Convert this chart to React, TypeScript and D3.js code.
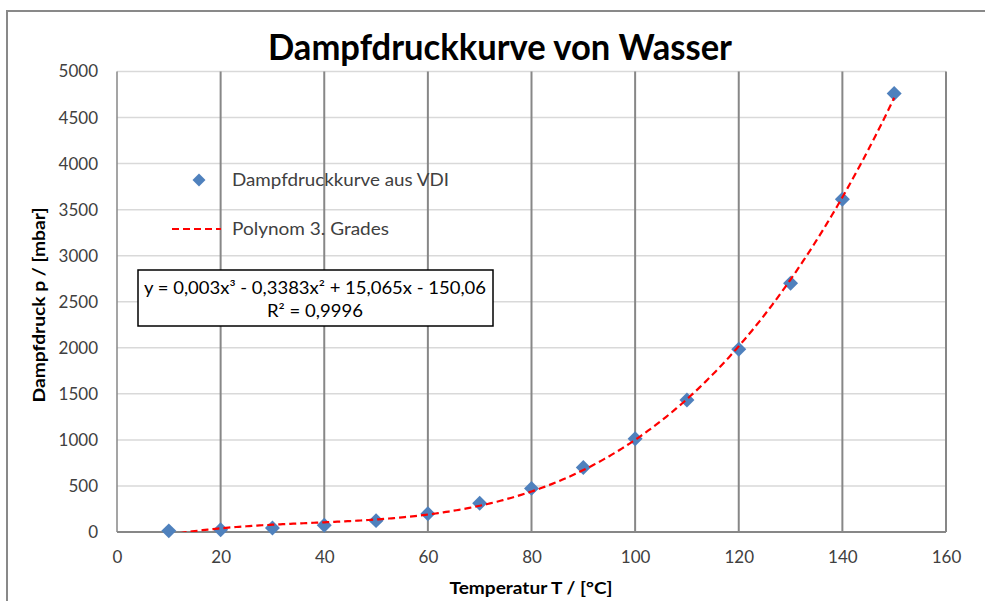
import React, { useEffect, useRef } from 'react';
import * as d3 from 'd3';

// Messwerte (Dampfdruck von Wasser nach VDI)
const temperatures = [10, 20, 30, 40, 50, 60, 70, 80, 90, 100, 110, 120, 130, 140, 150];
const pressures = [12.3, 23.4, 42.4, 73.8, 123.4, 199.3, 311.8, 473.6, 701.2, 1013, 1433, 1985, 2701, 3614, 4760];

const xTicks = [0, 20, 40, 60, 80, 100, 120, 140, 160];
const yTicks = [0, 500, 1000, 1500, 2000, 2500, 3000, 3500, 4000, 4500, 5000];

const titleText = 'Dampfdruckkurve von Wasser';
const xTitle = 'Temperatur T / [°C]';
const yTitle = 'Dampfdruck p / [mbar]';
const seriesName = 'Dampfdruckkurve aus VDI';
const trendName = 'Polynom 3. Grades';
const equationText = 'y = 0,003x³ - 0,3383x² + 15,065x - 150,06';
const r2Text = 'R² = 0,9996';

// least squares polynomial fit (like Excel's trendline)
function fitPoly(xs: number[], ys: number[], degree: number): number[] {
    const n = degree + 1;
    const A: number[][] = [];
    for (let i = 0; i < n; i++) {
        A.push([]);
        for (let j = 0; j < n; j++) {
            A[i].push(d3.sum(xs, x => Math.pow(x, i + j)));
        }
        A[i].push(d3.sum(xs, (x, k) => Math.pow(x, i) * ys[k]));
    }
    for (let c = 0; c < n; c++) {
        let p = c;
        for (let r = c + 1; r < n; r++) if (Math.abs(A[r][c]) > Math.abs(A[p][c])) p = r;
        [A[c], A[p]] = [A[p], A[c]];
        for (let r = 0; r < n; r++) {
            if (r === c) continue;
            const f = A[r][c] / A[c][c];
            for (let k = c; k <= n; k++) A[r][k] -= f * A[c][k];
        }
    }
    return A.map((row, i) => row[n] / row[i]);
}

const FONT = 'Lato, "Open Sans", sans-serif';

const App = () => {
    const svgRef = useRef<SVGSVGElement>(null);

    useEffect(() => {
        const svg = d3.select(svgRef.current);
        svg.selectAll('*').remove();

        const left = 117, right = 946, top = 71.5, bottom = 532;

        const x = d3.scaleLinear().domain([0, 160]).range([left, right]);
        const y = d3.scaleLinear().domain([0, 5000]).range([bottom, top]);

        // outer chart border
        svg.append('path')
            .attr('d', `M7,601 V11 H985`)
            .attr('fill', 'none')
            .attr('stroke', '#898989')
            .attr('stroke-width', 2);

        // title
        svg.append('text')
            .attr('x', 500).attr('y', 60)
            .attr('text-anchor', 'middle')
            .attr('font-family', FONT)
            .attr('font-weight', 'bold')
            .attr('font-size', 36)
            .attr('textLength', 464)
            .attr('lengthAdjust', 'spacingAndGlyphs')
            .text(titleText);

        // horizontal gridlines
        svg.append('g').selectAll('line')
            .data(yTicks.filter(d => d > 0))
            .enter().append('line')
            .attr('x1', left).attr('x2', right)
            .attr('y1', d => y(d)).attr('y2', d => y(d))
            .attr('stroke', '#d9d9d9')
            .attr('stroke-width', 1.5);

        // vertical gridlines
        svg.append('g').selectAll('line')
            .data(xTicks.filter(d => d > 0))
            .enter().append('line')
            .attr('x1', d => x(d)).attr('x2', d => x(d))
            .attr('y1', top).attr('y2', bottom)
            .attr('stroke', '#878787')
            .attr('stroke-width', 2);

        // axis lines
        svg.append('line')
            .attr('x1', left).attr('x2', left).attr('y1', top).attr('y2', bottom)
            .attr('stroke', '#878787').attr('stroke-width', 1.5);
        svg.append('line')
            .attr('x1', left).attr('x2', right).attr('y1', bottom).attr('y2', bottom)
            .attr('stroke', '#878787').attr('stroke-width', 2);

        // axis tick labels
        const yAxis = svg.append('g')
            .attr('transform', `translate(${left},0)`)
            .call(d3.axisLeft(y).tickValues(yTicks).tickSize(0).tickPadding(19).tickFormat(d3.format('d')));
        const xAxis = svg.append('g')
            .attr('transform', `translate(0,${bottom})`)
            .call(d3.axisBottom(x).tickValues(xTicks).tickSize(0).tickPadding(19).tickFormat(d3.format('d')));
        [yAxis, xAxis].forEach(ax => {
            ax.select('.domain').remove();
            ax.selectAll('text')
                .attr('font-family', FONT)
                .attr('font-size', 17)
                .attr('fill', '#404040');
        });

        // axis titles
        svg.append('text')
            .attr('x', 531).attr('y', 594)
            .attr('text-anchor', 'middle')
            .attr('font-family', FONT)
            .attr('font-weight', 'bold')
            .attr('font-size', 17)
            .attr('textLength', 163)
            .attr('lengthAdjust', 'spacingAndGlyphs')
            .text(xTitle);
        svg.append('text')
            .attr('transform', `translate(45,305) rotate(-90)`)
            .attr('text-anchor', 'middle')
            .attr('font-family', FONT)
            .attr('font-weight', 'bold')
            .attr('font-size', 17)
            .attr('textLength', 195)
            .attr('lengthAdjust', 'spacingAndGlyphs')
            .text(yTitle);

        // trendline
        const coef = fitPoly(temperatures, pressures, 3);
        const poly = (t: number) => coef.reduce((s, c, i) => s + c * Math.pow(t, i), 0);
        const ts = d3.range(temperatures[0], temperatures[temperatures.length - 1] + 0.01, 0.5);

        svg.append('clipPath').attr('id', 'plotClip')
            .append('rect')
            .attr('x', left).attr('y', top)
            .attr('width', right - left).attr('height', bottom - top);

        const line = d3.line<number>()
            .x(t => x(t))
            .y(t => y(poly(t)))
            .curve(d3.curveLinear);

        // diamonds
        const diamond = d3.symbol().type(d3.symbolSquare).size(112)();
        svg.append('g').selectAll('path')
            .data(temperatures)
            .enter().append('path')
            .attr('d', diamond)
            .attr('transform', (d, i) => `translate(${x(d)},${y(pressures[i])}) rotate(45)`)
            .attr('fill', '#4f81bd');

        svg.append('path')
            .datum(ts)
            .attr('clip-path', 'url(#plotClip)')
            .attr('d', line)
            .attr('fill', 'none')
            .attr('stroke', '#ff0000')
            .attr('stroke-width', 2.2)
            .attr('stroke-dasharray', '7,4');

        // legend
        svg.append('path')
            .attr('d', d3.symbol().type(d3.symbolSquare).size(84)())
            .attr('transform', 'translate(199,180) rotate(45)')
            .attr('fill', '#4f81bd');
        svg.append('line')
            .attr('x1', 172).attr('x2', 221).attr('y1', 229).attr('y2', 229)
            .attr('stroke', '#ff0000')
            .attr('stroke-width', 2)
            .attr('stroke-dasharray', '7,4');
        [[seriesName, 186, 217], [trendName, 235, 157]].forEach(([label, yy, len]) => {
            svg.append('text')
                .attr('x', 232).attr('y', yy as number)
                .attr('font-family', FONT)
                .attr('font-size', 17)
                .attr('fill', '#404040')
                .attr('textLength', len as number)
                .attr('lengthAdjust', 'spacingAndGlyphs')
                .text(label as string);
        });

        // equation box
        svg.append('rect')
            .attr('x', 138).attr('y', 270)
            .attr('width', 355).attr('height', 56)
            .attr('fill', '#fff')
            .attr('stroke', '#000')
            .attr('stroke-width', 1.5);
        svg.append('text')
            .attr('x', 315).attr('y', 294)
            .attr('text-anchor', 'middle')
            .attr('font-family', FONT)
            .attr('font-size', 17)
            .attr('textLength', 342)
            .attr('lengthAdjust', 'spacingAndGlyphs')
            .text(equationText);
        svg.append('text')
            .attr('x', 315).attr('y', 317)
            .attr('text-anchor', 'middle')
            .attr('font-family', FONT)
            .attr('font-size', 17)
            .attr('textLength', 96)
            .attr('lengthAdjust', 'spacingAndGlyphs')
            .text(r2Text);
    }, []);

    return (
        <svg
            ref={svgRef}
            width={985}
            height={601}
            style={{ position: 'absolute', left: 0, top: 0, background: '#fff' }}
        ></svg>
    );
};

export default App;
